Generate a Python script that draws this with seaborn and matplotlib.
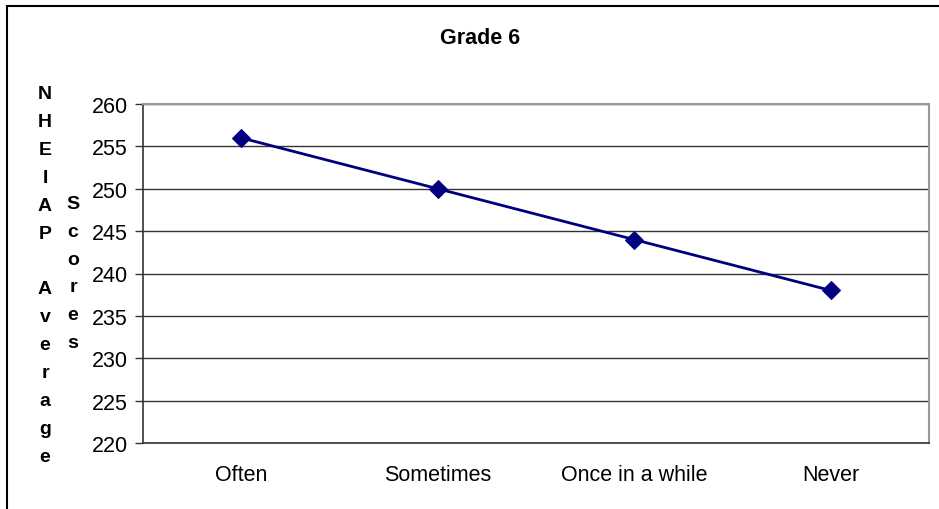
import matplotlib
matplotlib.use("Agg")
import matplotlib.pyplot as plt
import seaborn as sns
import pandas as pd
from matplotlib.patches import Rectangle

# dados do gráfico
categorias = ["Often", "Sometimes", "Once in a while", "Never"]
pontuacoes = [256, 250, 244, 238]
ticks_y = [220, 225, 230, 235, 240, 245, 250, 255, 260]

titulo = "Grade 6"
rotulo_col1 = "NHEIAP Average"
rotulo_col2 = "Scores"

sns.set_theme(style="white")
plt.rcParams["font.family"] = ["Liberation Sans", "DejaVu Sans"]
plt.rcParams["text.color"] = "black"
plt.rcParams["xtick.color"] = "black"
plt.rcParams["ytick.color"] = "black"

TAM = 15.5

df = pd.DataFrame({"categoria": categorias, "pontuacao": pontuacoes})
df["pos"] = range(len(categorias))

fig = plt.figure(figsize=(9.39, 5.10), dpi=100)
ax = fig.add_axes([143 / 939, 66 / 510, 786 / 939, 339 / 510])

sns.lineplot(data=df, x="pos", y="pontuacao", sort=False, ax=ax,
             color="#000080", linewidth=2, marker="D", markersize=9,
             markeredgecolor="#000080", markerfacecolor="#000080")

ax.set_xlim(-0.5, len(categorias) - 0.5)
ax.set_ylim(ticks_y[0], ticks_y[-1])
ax.set_yticks(ticks_y)
ax.set_yticklabels([str(t) for t in ticks_y], fontsize=TAM)
ax.yaxis.grid(True, color="#333333", linewidth=1)
ax.set_axisbelow(True)

# categorias no centro, marcas de divisão entre elas
ax.set_xticks(df["pos"])
ax.set_xticklabels(categorias, fontsize=TAM)
ax.set_xticks([i - 0.5 for i in range(len(categorias) + 1)], minor=True)
ax.tick_params(axis="x", which="major", length=0, pad=15, labelcolor="black")
ax.tick_params(axis="x", which="minor", length=6, width=1, color="#333333", direction="out")
ax.tick_params(axis="y", length=6, width=1, color="#333333", direction="out", left=True,
               pad=5, labelcolor="black")

ax.set_xlabel("")
ax.set_ylabel("")

for lado in ["left", "bottom"]:
    ax.spines[lado].set_color("#333333")
    ax.spines[lado].set_linewidth(1.2)
for lado in ["top", "right"]:
    ax.spines[lado].set_color("#999999")
    ax.spines[lado].set_linewidth(1.5)

fig.text(480 / 939, 1 - 38 / 510, titulo, ha="center", va="center",
         fontsize=TAM, fontweight="bold", color="black")

# rótulo do eixo y empilhado letra a letra
fig.text(45 / 939, 1 - 276 / 510, "\n".join(rotulo_col1), ha="center", va="center",
         fontsize=14, fontweight="bold", linespacing=1.84, color="black")
fig.text(73 / 939, 1 - 274 / 510, "\n".join(rotulo_col2), ha="center", va="center",
         fontsize=14, fontweight="bold", linespacing=1.84, color="black")

# moldura do gráfico
fig.patches.append(Rectangle((7 / 939, -0.1), 1.2, 1 - 7 / 510 + 0.1,
                             transform=fig.transFigure, fill=False,
                             edgecolor="black", linewidth=1.5))

fig.savefig("out.png", dpi=100)
